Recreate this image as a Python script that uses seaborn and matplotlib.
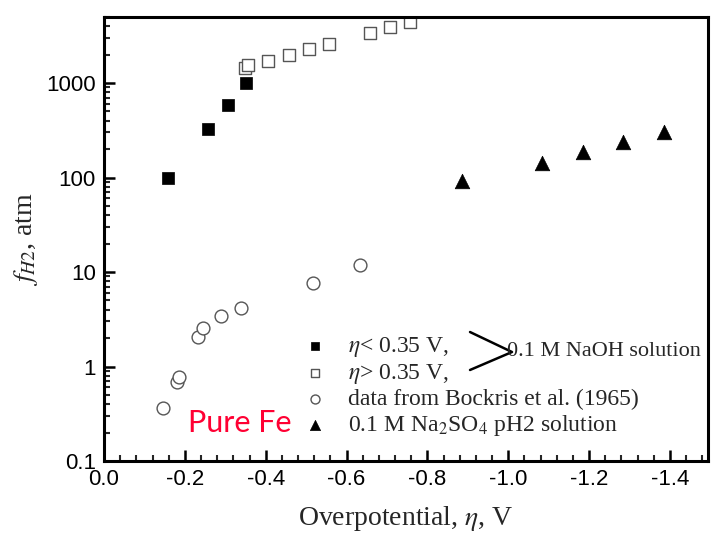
import numpy as np
import pandas as pd
import matplotlib
matplotlib.use("Agg")
import matplotlib.pyplot as plt
from matplotlib.ticker import AutoMinorLocator, FixedLocator, FixedFormatter, LogLocator, NullFormatter
import seaborn as sns

# ---- data ----
naoh_low_x = [-0.158, -0.257, -0.307, -0.351]
naoh_low_y = [100, 330, 590, 990]

naoh_high_x = [-0.350, -0.357, -0.406, -0.458, -0.508, -0.557, -0.658, -0.707, -0.757]
naoh_high_y = [1450, 1550, 1710, 1980, 2290, 2590, 3380, 3930, 4450]

bockris_x = [-0.145, -0.180, -0.185, -0.233, -0.246, -0.290, -0.340, -0.518, -0.633]
bockris_y = [0.36, 0.685, 0.78, 2.05, 2.55, 3.42, 4.16, 7.65, 11.9]

na2so4_x = [-0.885, -1.083, -1.184, -1.284, -1.385]
na2so4_y = [91, 144, 188, 235, 300]

x_ticks = [0.0, -0.2, -0.4, -0.6, -0.8, -1.0, -1.2, -1.4]
y_ticks = [0.1, 1, 10, 100, 1000]
y_tick_labels = ["0.1", "1", "10", "100", "1000"]

labels = [r"$\eta$< 0.35 V,", r"$\eta$> 0.35 V,",
          "data from Bockris et al. (1965)",
          r"0.1 M Na$_2$SO$_4$ pH2 solution"]

sns.set_theme(style="ticks")
plt.rcParams["font.family"] = ["Liberation Sans", "DejaVu Sans"]
plt.rcParams["mathtext.fontset"] = "stix"
plt.rcParams["axes.unicode_minus"] = False

fig = plt.figure(figsize=(7.11, 5.36), dpi=100)
ax = fig.add_axes([104/711, 1-461/536, 604/711, 444/536])

df_low = pd.DataFrame({"x": naoh_low_x, "y": naoh_low_y})
df_high = pd.DataFrame({"x": naoh_high_x, "y": naoh_high_y})
df_b = pd.DataFrame({"x": bockris_x, "y": bockris_y})
df_s = pd.DataFrame({"x": na2so4_x, "y": na2so4_y})

sns.scatterplot(data=df_low, x="x", y="y", ax=ax, marker="s", s=75,
                color="black", edgecolor="black", linewidth=0.5, label=labels[0])
sns.scatterplot(data=df_high, x="x", y="y", ax=ax, marker="s", s=70,
                facecolor="white", edgecolor="#555555", linewidth=1.0, label=labels[1])
sns.scatterplot(data=df_b, x="x", y="y", ax=ax, marker="o", s=85,
                facecolor="white", edgecolor="#555555", linewidth=1.0, label=labels[2])
sns.scatterplot(data=df_s, x="x", y="y", ax=ax, marker="^", s=110,
                color="black", edgecolor="black", linewidth=0.5, label=labels[3])

ax.set_yscale("log")
ax.set_xlim(0.0, -1.494)
ax.set_ylim(0.1, 5000)

ax.xaxis.set_major_locator(FixedLocator(x_ticks))
ax.set_xticklabels([f"{v:.1f}" for v in x_ticks])
ax.xaxis.set_minor_locator(AutoMinorLocator(5))
ax.yaxis.set_major_locator(FixedLocator(y_ticks))
ax.yaxis.set_major_formatter(FixedFormatter(y_tick_labels))
ax.yaxis.set_minor_locator(LogLocator(base=10, subs=np.arange(2, 10)))
ax.yaxis.set_minor_formatter(NullFormatter())

ax.tick_params(which="major", direction="in", length=8, width=1.8,
               labelsize=16, colors="black", pad=6, top=False, right=False)
ax.tick_params(which="minor", direction="in", length=4, width=1.5,
               top=False, right=False)
for sp in ax.spines.values():
    sp.set_linewidth(2.2)
    sp.set_color("black")

ax.set_xlabel(r"Overpotential, $\eta$, V", family="Liberation Serif", fontsize=20, labelpad=10)
ax.set_ylabel(r"$f_{H2}$, atm", family="Liberation Serif", fontsize=20, labelpad=4)

leg = ax.legend(loc="upper left", bbox_to_anchor=(0.31, 0.31), frameon=False,
                prop={"family": "Liberation Serif", "size": 17},
                handlelength=1.0, handletextpad=0.9, labelspacing=0.12,
                borderpad=0, markerscale=0.7)

# bracket and shared NaOH label
ax.plot([0.606, 0.6755, 0.606], [0.2905, 0.2455, 0.205], transform=ax.transAxes,
        color="black", lw=1.8, clip_on=False)
ax.text(0.668, 0.2455, "0.1 M NaOH solution", transform=ax.transAxes,
        family="Liberation Serif", fontsize=16, va="center", ha="left")

ax.text(0.139, 0.085, "Pure Fe", transform=ax.transAxes, color="#ff0033",
        family="Lato", fontsize=22, va="center", ha="left")

fig.savefig("out.png", dpi=100)
